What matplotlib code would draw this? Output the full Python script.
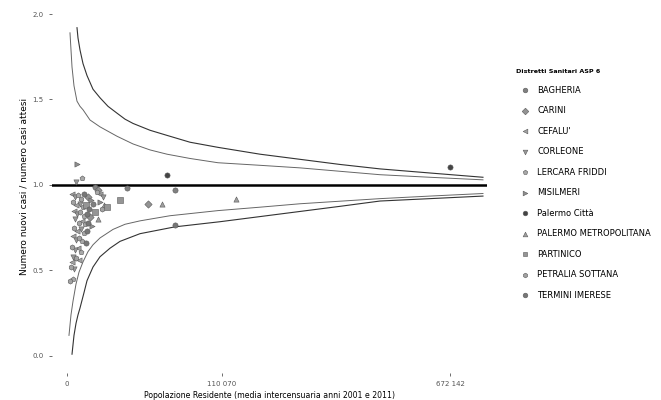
import numpy as np
import matplotlib.pyplot as plt

# funnel limits (population, ratio)
upper998_pop = [458, 554, 774, 1173, 1833, 3097, 4990, 7702, 11455, 15413, 19956, 31564,
                45820, 69320, 104470, 170660, 248730, 341500, 448880, 603740, 792860]
upper998_val = [1.92, 1.86, 1.79, 1.71, 1.64, 1.56, 1.51, 1.46, 1.42, 1.385, 1.36, 1.32,
                1.29, 1.25, 1.22, 1.18, 1.15, 1.12, 1.094, 1.07, 1.045]
upper95_pop = [41, 115, 224, 458, 774, 1173, 2424, 4990, 11455, 19956, 31564, 45820,
               69320, 104470, 170660, 248730, 341500, 448880, 603740, 792860]
upper95_val = [1.89, 1.69, 1.58, 1.49, 1.46, 1.44, 1.38, 1.34, 1.285, 1.24, 1.205, 1.18,
               1.155, 1.13, 1.115, 1.10, 1.08, 1.06, 1.045, 1.03]
lower95_pop = [18, 73, 165, 371, 660, 1173, 2021, 3097, 4990, 9694, 15413, 24420,
               48600, 104470, 170660, 248730, 448880, 603740, 792860]
lower95_val = [0.12, 0.24, 0.32, 0.42, 0.49, 0.55, 0.61, 0.65, 0.69, 0.74, 0.77, 0.79,
               0.82, 0.85, 0.87, 0.89, 0.92, 0.935, 0.95]
lower998_pop = [115, 224, 371, 554, 774, 1324, 1833, 3097, 4990, 8472, 12869, 24420,
                53440, 107250, 170660, 248730, 341500, 448880, 603740, 792860]
lower998_val = [0.01, 0.12, 0.19, 0.24, 0.28, 0.37, 0.44, 0.52, 0.58, 0.63, 0.67, 0.715,
                0.755, 0.785, 0.815, 0.845, 0.875, 0.906, 0.92, 0.935]

districts = ["BAGHERIA", "CARINI", "CEFALU'", "CORLEONE", "LERCARA FRIDDI", "MISILMERI",
             "Palermo Città", "PALERMO METROPOLITANA", "PARTINICO", "PETRALIA SOTTANA",
             "TERMINI IMERESE"]

# comuni: population, ratio observed/expected, district index
pop = [458, 1031, 371, 45820, 16494, 53440, 12869, 30063, 41350, 53440, 130850,
       3592, 4403, 4990, 5938, 4124, 4990, 6272, 7331, 5613,
       115, 293, 554, 898, 1324, 2021, 2639,
       165, 371, 774, 1173, 1654, 2218, 3097,
       224, 458, 774, 1324, 1833, 2424, 3592,
       293, 660, 1031, 1484, 2021, 2864, 4403,
       224, 458, 898, 1324, 1833,
       165, 371, 660, 1031, 1654,
       115, 293, 554, 898,
       165, 371, 660,
       73, 224, 115, 165, 41,
       672142]
ratio = [1.12, 1.04, 1.02, 1.06, 0.98, 0.97, 0.91, 0.89, 0.89, 0.765, 0.92,
         0.99, 0.97, 0.95, 0.93, 0.96, 0.90, 0.88, 0.87, 0.86,
         0.95, 0.93, 0.94, 0.92, 0.95, 0.93, 0.91,
         0.90, 0.88, 0.89, 0.87, 0.88, 0.86, 0.89,
         0.85, 0.83, 0.84, 0.82, 0.83, 0.81, 0.84,
         0.80, 0.78, 0.79, 0.77, 0.78, 0.76, 0.80,
         0.75, 0.73, 0.74, 0.72, 0.73,
         0.70, 0.68, 0.69, 0.67, 0.66,
         0.64, 0.62, 0.63, 0.61,
         0.58, 0.57, 0.56,
         0.52, 0.51, 0.55, 0.45, 0.44,
         1.106]
district_of = [5, 4, 3, 6, 0, 0, 8, 1, 7, 10, 7,
               0, 1, 2, 3, 4, 5, 7, 8, 9,
               2, 3, 4, 9, 10, 1, 5,
               9, 2, 3, 4, 8, 10, 0,
               2, 3, 9, 4, 10, 1, 8,
               3, 9, 2, 4, 10, 5, 7,
               9, 2, 3, 4, 10,
               2, 3, 9, 4, 10,
               9, 3, 2, 4,
               3, 9, 2,
               9, 3, 2, 4, 9,
               6]

xticks = [0, 110070, 672142]
xticklabels = ["0", "110 070", "672 142"]
yticks = [0.0, 0.5, 1.0, 1.5, 2.0]

markers = ['o', 'D', '<', 'v', 'p', '>', 'o', '^', 's', 'h', 'o']
greys = ['#808080', '#939393', '#a3a3a3', '#989898', '#a8a8a8', '#8e8e8e',
         '#444444', '#9e9e9e', '#959595', '#a2a2a2', '#777777']

fig = plt.figure(figsize=(6.61, 4.0), dpi=100)
ax = fig.add_axes([52 / 661, 1 - 373 / 400, 435 / 661, 373 / 400])

fwd = lambda x: np.sign(x) * np.sqrt(np.abs(x))
inv = lambda x: np.sign(x) * x ** 2
ax.set_xscale('function', functions=(fwd, inv))

ax.axhline(1.0, color='black', lw=1.8, zorder=2)
ax.plot(upper998_pop, upper998_val, color='#333333', lw=0.8)
ax.plot(lower998_pop, lower998_val, color='#333333', lw=0.8)
ax.plot(upper95_pop, upper95_val, color='#666666', lw=0.7)
ax.plot(lower95_pop, lower95_val, color='#666666', lw=0.7)

pop = np.array(pop)
ratio = np.array(ratio)
district_of = np.array(district_of)
for i, name in enumerate(districts):
    m = district_of == i
    ax.scatter(pop[m], ratio[m], marker=markers[i], s=14, facecolor=greys[i],
               edgecolor='#5a5a5a', linewidths=0.4, label=name, zorder=3)

ax.set_xlim(-1031, 808300)
ax.set_ylim(-0.1, 2.082)
ax.set_xticks(xticks)
ax.set_xticklabels(xticklabels)
ax.set_yticks(yticks)
ax.tick_params(labelsize=5, colors='#555555', length=2.5, width=0.6)
for s in ax.spines.values():
    s.set_visible(False)

ax.set_xlabel("Popolazione Residente (media intercensuaria anni 2001 e 2011)",
              fontsize=5.6, labelpad=3)
ax.set_ylabel("Numero nuovi casi / numero casi attesi", fontsize=6.5, labelpad=3)

leg = ax.legend(title="Distretti Sanitari ASP 6", loc='upper left',
                bbox_to_anchor=(1.05, 0.835), frameon=False, fontsize=6,
                title_fontproperties={'size': 4.6, 'weight': 'bold'},
                labelspacing=1.38, handletextpad=0.5, markerscale=0.9)
leg._legend_box.align = "left"

fig.savefig("out.png", dpi=100)
